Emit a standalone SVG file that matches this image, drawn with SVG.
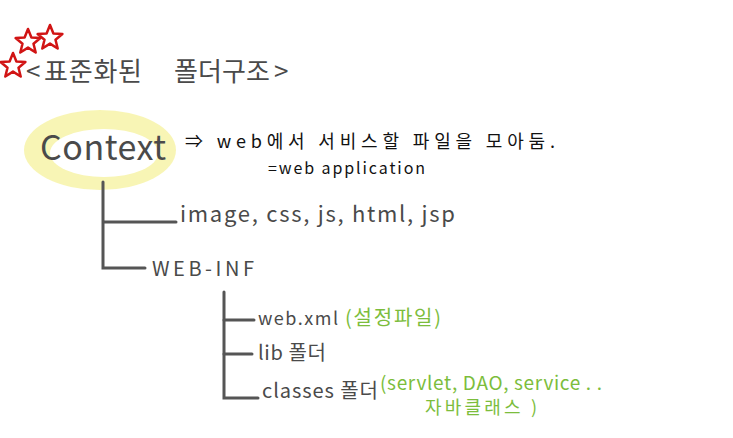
<svg xmlns="http://www.w3.org/2000/svg" width="733" height="438" viewBox="0 0 733 438">
<style>
.g{font-family:"Noto Sans CJK KR","Noto Sans",sans-serif;fill:#4a4a4a}
.k{font-family:"Noto Sans CJK KR","Noto Sans",sans-serif;fill:#111}
.gr{font-family:"Noto Sans CJK KR","Noto Sans",sans-serif;fill:#7cbd3c}
.ln{stroke:#555;stroke-width:3;fill:none;stroke-linecap:round}
.star{fill:none;stroke:#d11414;stroke-width:2.5;stroke-linejoin:round}
</style>
<defs>
<polygon id="st" points="0,-13 3.4,-4.5 12.4,-4 5.5,1.7 7.7,10.5 0,5.6 -7.7,10.5 -5.5,1.7 -12.4,-4 -3.4,-4.5"/>
</defs>
<rect width="733" height="438" fill="#fff"/>
<g id="title">
<use href="#st" class="star" x="28" y="42"/>
<use href="#st" class="star" x="50" y="38"/>
<use href="#st" class="star" x="13" y="66"/>
<text class="g" x="26" y="81" font-size="26">&lt;</text>
<text class="g" x="44" y="81" font-size="26" textLength="98">표준화된</text>
<text class="g" x="174" y="81" font-size="26" textLength="96">폴더구조</text>
<text class="g" x="274" y="81" font-size="26">&gt;</text>
</g>
<g id="context">
<ellipse cx="100" cy="150" rx="76" ry="40" fill="#f7f3a8" opacity="0.85"/>
<ellipse cx="104" cy="153" rx="54" ry="24" fill="#fff"/>
<text class="g" x="40" y="160" font-size="34" textLength="126">Context</text>
</g>
<g id="desc">
<text class="k" x="185" y="148" font-size="18" textLength="370">⇒ web에서 서비스할 파일을 모아둠.</text>
<text class="k" x="268" y="174" font-size="16" textLength="157">=web application</text>
</g>
<g id="connectors">
<path class="ln" d="M103 182 V268 H145"/>
<path class="ln" d="M104 222 H176"/>
<path class="ln" d="M224 292 V398 H258"/>
<path class="ln" d="M224 320 H254"/>
<path class="ln" d="M224 354 H252"/>
</g>
<g id="static">
<text class="g" x="180" y="222" font-size="22" textLength="275">image, css, js, html, jsp</text>
</g>
<g id="webinf">
<text class="g" x="152" y="276" font-size="20" textLength="102">WEB-INF</text>
</g>
<g id="webxml">
<text class="g" x="258" y="325" font-size="18" textLength="80">web.xml</text>
<text class="gr" x="345" y="325" font-size="20" textLength="96">(설정파일)</text>
</g>
<g id="lib">
<text class="g" x="258" y="360" font-size="20" textLength="68">lib 폴더</text>
</g>
<g id="classes">
<text class="g" x="262" y="398" font-size="20" textLength="116">classes 폴더</text>
<text class="gr" x="380" y="390" font-size="19" textLength="222">(servlet, DAO, service . .</text>
<text class="gr" x="425" y="414" font-size="18" textLength="112">자바클래스 )</text>
</g>
</svg>
